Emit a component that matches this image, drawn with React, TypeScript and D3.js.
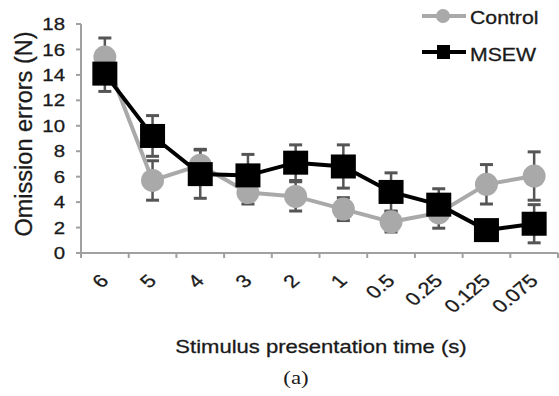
import React from "react";
import * as d3 from "d3";

// Stimulus presentation time categories (s)
const categories = ["6", "5", "4", "3", "2", "1", "0.5", "0.25", "0.125", "0.075"];

// Mean omission errors and error-bar half widths per group
const controlMean = [15.4, 5.7, 6.9, 4.75, 4.45, 3.45, 2.45, 3.15, 5.4, 6.05];
const controlErr = [1.5, 1.55, 1.25, 0.9, 1.15, 0.9, 0.8, 1.2, 1.55, 1.9];
const msewMean = [14.1, 9.2, 6.2, 6.1, 7.1, 6.8, 4.8, 3.8, 1.8, 2.3];
const msewErr = [1.4, 1.6, 1.9, 1.65, 1.4, 1.7, 1.5, 1.25, 0.5, 1.5];

const yTicks = [0, 2, 4, 6, 8, 10, 12, 14, 16, 18];

const W = 559;
const H = 396;
const plot = { left: 81, right: 558, top: 24, bottom: 253 };

const CONTROL = "#a9a9a9";
const MSEW = "#000000";
const ERR = "#555555";
const AXIS = "#a0a0a0";
const TEXT = "#1a1a1a";
const FONT = "'Liberation Sans', Arial, sans-serif";
const STRETCH = 1.2;

export default function App() {
  const x = d3
    .scaleBand<string>()
    .domain(categories)
    .range([plot.left, plot.right])
    .paddingInner(0)
    .paddingOuter(0);
  const y = d3.scaleLinear().domain([0, 18]).range([plot.bottom, plot.top]);
  const cx = (c: string) => (x(c) as number) + x.bandwidth() / 2;

  const line = d3
    .line<number>()
    .x((_, i) => cx(categories[i]))
    .y((d) => y(d));

  const errorBars = (means: number[], errs: number[], key: string) =>
    means.map((m, i) => {
      const px = cx(categories[i]);
      const top = y(m + errs[i]);
      const bot = y(Math.max(0, m - errs[i]));
      return (
        <g key={key + i} stroke={ERR} strokeWidth={2.5}>
          <line x1={px} x2={px} y1={top} y2={bot} />
          <line x1={px - 6.5} x2={px + 6.5} y1={top} y2={top} strokeWidth={3} />
          <line x1={px - 6.5} x2={px + 6.5} y1={bot} y2={bot} strokeWidth={3} />
        </g>
      );
    });

  const boundaries = [...categories.map((c) => x(c) as number), plot.right];
  const textStyle = { fill: TEXT, stroke: TEXT, strokeWidth: 0.3 };

  return (
    <svg
      width={W}
      height={H}
      style={{ position: "absolute", left: 0, top: 0, background: "#fff" }}
      fontFamily={FONT}
    >
      {/* axes */}
      <g stroke={AXIS} strokeWidth={2}>
        <line x1={plot.left} x2={plot.left} y1={plot.top} y2={plot.bottom + 5} />
        <line x1={plot.left - 5} x2={plot.right} y1={plot.bottom} y2={plot.bottom} />
        {yTicks.map((t) => (
          <line key={"yt" + t} x1={plot.left - 5} x2={plot.left} y1={y(t)} y2={y(t)} />
        ))}
        {boundaries.map((b, i) => (
          <line key={"xt" + i} x1={b} x2={b} y1={plot.bottom} y2={plot.bottom + 5} />
        ))}
      </g>

      {/* y tick labels */}
      {yTicks.map((t) => (
        <text
          key={"yl" + t}
          transform={`translate(${plot.left - 16},${y(t)}) scale(${STRETCH},1)`}
          dy="0.36em"
          textAnchor="end"
          fontSize={17}
          style={textStyle}
        >
          {t}
        </text>
      ))}

      {/* x tick labels */}
      {categories.map((c) => (
        <text
          key={"xl" + c}
          transform={`translate(${cx(c) + 5},${plot.bottom + 29}) scale(${STRETCH},1) rotate(-45)`}
          textAnchor="end"
          fontSize={18}
          style={textStyle}
        >
          {c}
        </text>
      ))}

      {/* axis titles */}
      <text
        transform={`translate(32,134) rotate(-90)`}
        textAnchor="middle"
        fontSize={23.5}
        style={textStyle}
      >
        Omission errors (N)
      </text>
      <text
        transform={`translate(321,353) scale(1.16,1)`}
        textAnchor="middle"
        fontSize={19}
        style={textStyle}
      >
        Stimulus presentation time (s)
      </text>
      <text
        transform={`translate(296,384) scale(${STRETCH},1)`}
        textAnchor="middle"
        fontSize={19}
        fontFamily="'Liberation Serif', 'Times New Roman', serif"
        fill={TEXT}
      >
        (a)
      </text>

      {/* error bars */}
      {errorBars(controlMean, controlErr, "ce")}
      {errorBars(msewMean, msewErr, "me")}

      {/* Control series */}
      <path d={line(controlMean) ?? ""} fill="none" stroke={CONTROL} strokeWidth={4} />
      {controlMean.map((m, i) => (
        <circle key={"cm" + i} cx={cx(categories[i])} cy={y(m)} r={11.5} fill={CONTROL} />
      ))}

      {/* MSEW series */}
      <path d={line(msewMean) ?? ""} fill="none" stroke={MSEW} strokeWidth={4} />
      {msewMean.map((m, i) => (
        <rect
          key={"mm" + i}
          x={cx(categories[i]) - 12.5}
          y={y(m) - 12}
          width={25}
          height={24}
          fill={MSEW}
        />
      ))}

      {/* legend */}
      <g>
        <line x1={422} x2={466} y1={16} y2={16} stroke={CONTROL} strokeWidth={4} />
        <circle cx={443} cy={16} r={7} fill={CONTROL} />
        <text transform={`translate(470,24) scale(1.18,1)`} fontSize={18} style={textStyle}>
          Control
        </text>
        <line x1={422} x2={466} y1={52} y2={52} stroke={MSEW} strokeWidth={4} />
        <rect x={437} y={45} width={13} height={14} fill={MSEW} />
        <text transform={`translate(470,61) scale(1.18,1)`} fontSize={18} style={textStyle}>
          MSEW
        </text>
      </g>
    </svg>
  );
}
